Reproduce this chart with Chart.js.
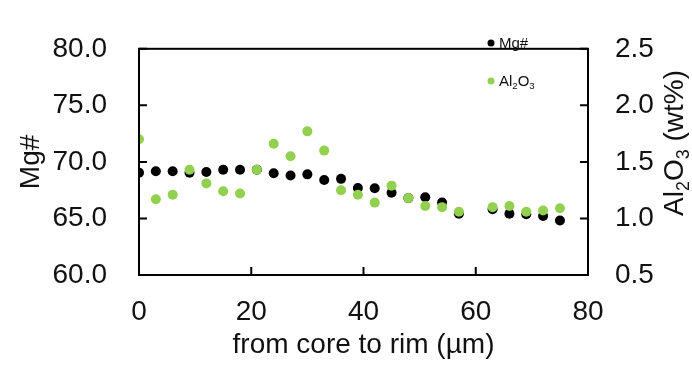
<!DOCTYPE html>
<html>
<head>
<meta charset="utf-8">
<script src="https://cdn.jsdelivr.net/npm/chart.js@4.4.1/dist/chart.umd.min.js"></script>
<style>
  html, body { margin: 0; padding: 0; background: #fff; }
</style>
</head>
<body>
<canvas id="myChart" width="692" height="367"></canvas>
<script>
const ctx = document.getElementById("myChart")

// distance from core (µm)
const distance = [0, 3, 6, 9, 12, 15, 18, 21, 24, 27, 30, 33, 36, 39, 42, 45, 48, 51, 54, 57, 63, 66, 69, 72, 75]

const mgNumber = [69.05, 69.18, 69.18, 69.05, 69.1, 69.3, 69.3, 69.3, 69.0, 68.8, 68.9, 68.4, 68.5,
  67.7, 67.67, 67.28, 66.8, 66.88, 66.4, 65.42, 65.82, 65.42, 65.37, 65.21, 64.82]

const al2o3 = [1.70, 1.17, 1.21, 1.43, 1.31, 1.24, 1.22, 1.43, 1.66, 1.55, 1.77, 1.60, 1.25,
  1.21, 1.14, 1.29, 1.18, 1.11, 1.10, 1.06, 1.10, 1.11, 1.06, 1.07, 1.09]

const xTicks = [0, 20, 40, 60, 80]
const mgTicks = [60, 65, 70, 75, 80]
const alTicks = [0.5, 1.0, 1.5, 2.0, 2.5]

const FONT = "'Liberation Sans', Arial, sans-serif"
const TXT = '#111'

// draws text where digits are subscripts (Al2O3)
function chemText(c, text, x, y, size) {
  const parts = text.split('').map(ch => ({ ch, sub: /[0-9]/.test(ch) }))
  let w = 0
  parts.forEach(p => {
    c.font = (p.sub ? size * 0.64 : size) + 'px ' + FONT
    p.w = c.measureText(p.ch).width
    w += p.w
  })
  return { width: w, draw(x0) {
    let cx = x0
    parts.forEach(p => {
      c.font = (p.sub ? size * 0.64 : size) + 'px ' + FONT
      c.fillText(p.ch, cx, p.sub ? y + size * 0.22 : y)
      cx += p.w
    })
  } }
}

const frame = {
  id: 'frame',
  afterDatasetsDraw(chart) {
    const c = chart.ctx
    const a = chart.chartArea
    const s = chart.scales
    c.save()
    c.strokeStyle = '#000'
    c.lineWidth = 2
    c.strokeRect(a.left, a.top, a.right - a.left, a.bottom - a.top)
    c.beginPath()
    xTicks.forEach(v => {
      const px = s.x.getPixelForValue(v)
      c.moveTo(px, a.bottom); c.lineTo(px, a.bottom - 8)
    })
    mgTicks.forEach(v => {
      const py = s.y.getPixelForValue(v)
      c.moveTo(a.left, py); c.lineTo(a.left + 8, py)
    })
    alTicks.forEach(v => {
      const py = s.y2.getPixelForValue(v)
      c.moveTo(a.right, py); c.lineTo(a.right - 8, py)
    })
    c.stroke()

    // legend inside plot
    c.fillStyle = TXT
    c.textBaseline = 'alphabetic'
    chart.data.datasets.forEach((ds, i) => {
      const cy = [43, 81][i]
      c.fillStyle = ds.backgroundColor
      c.beginPath(); c.arc(491, cy, 3.5, 0, Math.PI * 2); c.fill()
      c.fillStyle = TXT
      chemText(c, ds.label, 0, cy + 5, 15).draw(499)
    })

    // right axis title
    c.translate(683, 143)
    c.rotate(-Math.PI / 2)
    const t = chemText(c, 'Al2O3 (wt%)', 0, 0, 28)
    t.draw(-t.width / 2)
    c.restore()
  }
}

const data = {
  datasets: [{
    label: 'Mg#',
    data: distance.map((d, i) => ({ x: d, y: mgNumber[i] })),
    backgroundColor: '#000000',
    borderWidth: 0,
    pointRadius: 5,
    yAxisID: 'y',
    order: 2
  }, {
    label: 'Al2O3',
    data: distance.map((d, i) => ({ x: d, y: al2o3[i] })),
    backgroundColor: '#92D050',
    borderWidth: 0,
    pointRadius: 5,
    yAxisID: 'y2',
    order: 1
  }]
}

const tickFont = { family: FONT, size: 28 }

const config = {
  type: 'scatter',
  data: data,
  options: {
    responsive: false,
    animation: false,
    layout: { padding: { top: 23, left: 0, right: 0, bottom: 0 } },
    plugins: { legend: { display: false }, tooltip: { enabled: false } },
    scales: {
      x: {
        min: 0, max: 80,
        afterBuildTicks: sc => { sc.ticks = xTicks.map(v => ({ value: v })) },
        afterFit: sc => { sc.height = 92 },
        grid: { display: false, drawTicks: false },
        border: { display: false },
        ticks: { font: tickFont, color: TXT, padding: 20, maxRotation: 0 },
        title: { display: true, text: 'from core to rim (µm)', font: tickFont, color: TXT, padding: { bottom: 5 } }
      },
      y: {
        position: 'left',
        min: 60, max: 80,
        afterBuildTicks: sc => { sc.ticks = mgTicks.map(v => ({ value: v })) },
        afterFit: sc => { sc.width = 139 },
        grid: { display: false, drawTicks: false },
        border: { display: false },
        ticks: { font: tickFont, color: TXT, padding: 32, callback: v => Number(v).toFixed(1) },
        title: { display: true, text: 'Mg#', font: tickFont, color: TXT, padding: { top: 14 } }
      },
      y2: {
        position: 'right',
        min: 0.5, max: 2.5,
        afterBuildTicks: sc => { sc.ticks = alTicks.map(v => ({ value: v })) },
        afterFit: sc => { sc.width = 104 },
        grid: { display: false, drawTicks: false },
        border: { display: false },
        ticks: { font: tickFont, color: TXT, padding: 27, callback: v => Number(v).toFixed(1) }
      }
    }
  },
  plugins: [frame]
}

const myChart = new Chart(ctx, config)
</script>
</body>
</html>
